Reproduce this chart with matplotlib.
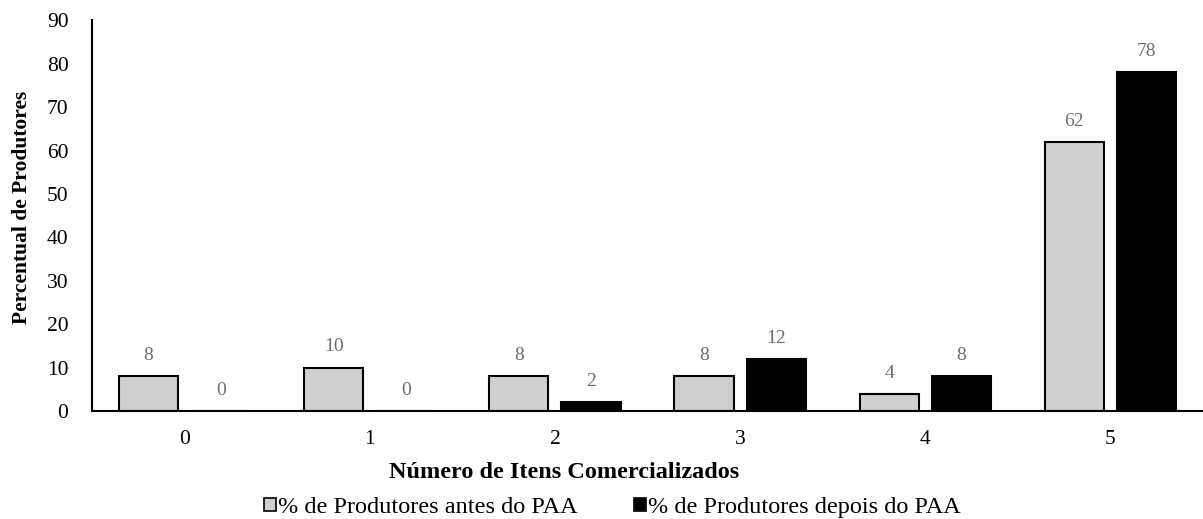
import numpy as np
import matplotlib.pyplot as plt
from matplotlib.patches import Patch

plt.rcParams['font.family'] = ['Liberation Serif', 'DejaVu Serif']

categories = ['0', '1', '2', '3', '4', '5']
antes = [8, 10, 8, 8, 4, 62]
depois = [0, 0, 2, 12, 8, 78]
labels = ['% de Produtores antes do PAA', '% de Produtores depois do PAA']

fig = plt.figure(figsize=(12.03, 5.19), dpi=100)
ax = fig.add_axes([0.0765, 0.208, 0.9235, 0.753])

x = np.arange(len(categories))
w = 0.32
off = 0.195
b1 = ax.bar(x - off, antes, w, color='#d0cfcf', edgecolor='black', linewidth=1.5)
b2 = ax.bar(x + off, depois, w, color='black', edgecolor='black', linewidth=1.5)

for bars, vals in ((b1, antes), (b2, depois)):
    for r, v in zip(bars, vals):
        ax.text(r.get_x() + r.get_width() / 2, v + 2.8, str(v), ha='center', va='bottom',
                fontsize=14, color='#6e6e6e')

ax.set_xlim(-0.5, 5.5)
ax.set_ylim(0, 90)
ax.set_yticks(range(0, 91, 10))
ax.set_xticks(x)
ax.set_xticklabels(categories)
ax.tick_params(length=0, labelsize=15.5, pad=14)
ax.tick_params(axis='y', pad=17)
for s in ('top', 'right'):
    ax.spines[s].set_visible(False)
ax.spines['left'].set_linewidth(1.5)
ax.spines['bottom'].set_linewidth(1.5)

ax.set_xlabel('Número de Itens Comercializados', fontsize=17.5, fontweight='bold')
ax.xaxis.set_label_coords(0.425, -0.130)
ax.set_ylabel('Percentual de Produtores', fontsize=15.5, fontweight='bold')
ax.yaxis.set_label_coords(-0.054, 0.52)

handles = [Patch(facecolor='#d0cfcf', edgecolor='black', linewidth=1.2),
           Patch(facecolor='black', edgecolor='black', linewidth=1.2)]
fig.legend(handles, labels, loc='center', bbox_to_anchor=(0.509, 0.022), ncol=2, frameon=False,
           fontsize=17.5, handlelength=0.5, handleheight=0.5, handletextpad=0.1, columnspacing=2.3)

fig.savefig('out.png', dpi=100)
